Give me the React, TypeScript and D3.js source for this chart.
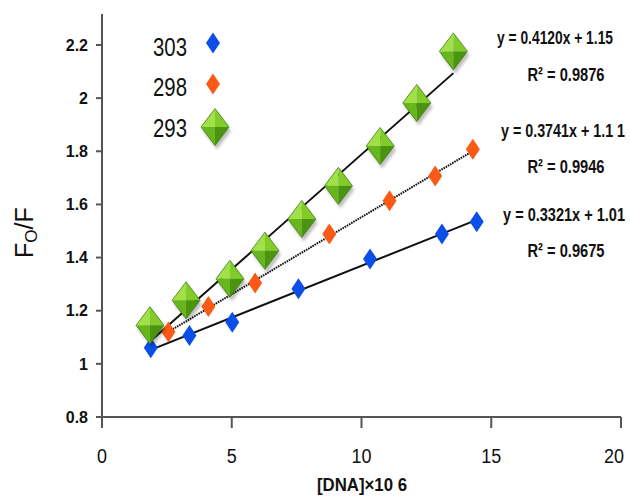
import React from 'react';
import * as d3 from 'd3';

// [DNA]x10^6 values and F0/F ratios
const x303 = [1.88, 3.37, 5.02, 7.57, 10.33, 13.1, 14.44];
const y303 = [1.061, 1.107, 1.157, 1.283, 1.395, 1.489, 1.535];
const x298 = [2.56, 4.1, 5.9, 8.76, 11.08, 12.84, 14.29];
const y298 = [1.12, 1.216, 1.304, 1.489, 1.614, 1.707, 1.808];
const x293 = [1.85, 3.24, 4.93, 6.28, 7.7, 9.11, 10.72, 12.13, 13.54];
const y293 = [1.145, 1.239, 1.32, 1.426, 1.545, 1.67, 1.82, 1.982, 2.176];

const seriesNames = ['303', '298', '293'];
const equations = ['y = 0.4120x + 1.15', 'y = 0.3741x + 1.1 1', 'y = 0.3321x + 1.01'];
const rSquared = ['R² = 0.9876', 'R² = 0.9946', 'R² = 0.9675'];
const xTicks = [0, 5, 10, 15, 20];
const yTicks = [0.8, 1, 1.2, 1.4, 1.6, 1.8, 2, 2.2];

const W = 630;
const H = 503;
const margin = { top: 14, left: 102, right: 9, bottom: 86 };

const x = d3.scaleLinear().domain([0, 20]).range([margin.left, W - margin.right]);
const y = d3.scaleLinear().domain([0.8, 2.2]).range([H - margin.bottom, 45]);

// least squares fit, like excel's linear trendline
function fit(xs: number[], ys: number[]) {
    const mx = d3.mean(xs) as number;
    const my = d3.mean(ys) as number;
    const num = d3.sum(xs, (v, i) => (v - mx) * (ys[i] - my));
    const den = d3.sum(xs, v => (v - mx) * (v - mx));
    const slope = num / den;
    const icpt = my - slope * mx;
    const ext = d3.extent(xs) as [number, number];
    return ext.map(v => ({ x: v, y: icpt + slope * v }));
}

const line = d3.line<{ x: number; y: number }>().x(d => x(d.x)).y(d => y(d.y));

const diamond = (w: number, h: number) =>
    `M0,${-h / 2}L${w / 2},0L0,${h / 2}L${-w / 2},0Z`;

function SmallDiamond({ cx, cy, color }: { cx: number; cy: number; color: string }) {
    return <path transform={`translate(${cx},${cy})`} d={diamond(14, 21)} fill={color} />;
}

function BigDiamond({ cx, cy }: { cx: number; cy: number }) {
    const w = 28, h = 37;
    return (
        <g transform={`translate(${cx},${cy})`}>
            <path d={diamond(w, h)} transform="translate(2,4)" fill="#000" opacity={0.25} filter="url(#blur)" />
            <path d={`M0,0L0,${-h / 2}L${-w / 2},0Z`} fill="#a2e04a" />
            <path d={`M0,0L0,${-h / 2}L${w / 2},0Z`} fill="#82cc2a" />
            <path d={`M0,0L${-w / 2},0L0,${h / 2}Z`} fill="#66b61c" />
            <path d={`M0,0L${w / 2},0L0,${h / 2}Z`} fill="#4a9410" />
            <path d={diamond(w, h)} fill="none" stroke="#3f7d12" strokeWidth={0.8} />
        </g>
    );
}

const sans = '"Liberation Sans", Arial, sans-serif';
const axisColor = '#555';

// narrow text: squeezed horizontally so it looks like a condensed face
function NarrowText(props: { x: number; y: number; w: number; sx: number; size: number; bold?: boolean; children: React.ReactNode }) {
    const { x: tx, y: ty, w, sx, size, bold, children } = props;
    return (
        <text transform={`translate(${tx},${ty}) scale(${sx},1)`} dy="0.36em" textAnchor="middle"
            fontFamily={sans} fontWeight={bold ? 'bold' : 'normal'} fontSize={size} fill="#111"
            textLength={w / sx} lengthAdjust="spacingAndGlyphs">
            {children}
        </text>
    );
}

export default function App() {
    const fits = [fit(x303, y303), fit(x298, y298), fit(x293, y293)];
    const eqPos = [
        { x: 555, y: 37, ry: 74, w: 116 },
        { x: 563, y: 130, ry: 166, w: 124 },
        { x: 564, y: 214, ry: 250, w: 122 },
    ];
    return (
        <div style={{ position: 'absolute', left: 0, top: 0 }}>
            <svg width={W} height={H} style={{ display: 'block', background: '#fff' }}>
                <defs>
                    <filter id="blur" x="-50%" y="-50%" width="200%" height="200%">
                        <feGaussianBlur stdDeviation={1.6} />
                    </filter>
                </defs>

                {/* axes */}
                <line x1={x(0)} x2={x(0)} y1={margin.top} y2={y(0.8)} stroke={axisColor} strokeWidth={2} />
                <line x1={x(0) - 5} x2={x(20)} y1={y(0.8)} y2={y(0.8)} stroke={axisColor} strokeWidth={2} />
                {yTicks.map(t => (
                    <g key={'y' + t}>
                        <line x1={x(0) - 6} x2={x(0)} y1={y(t)} y2={y(t)} stroke={axisColor} strokeWidth={2} />
                        <text x={x(0) - 14} y={y(t)} dy="0.36em" textAnchor="end"
                            fontFamily={sans} fontWeight="bold" fontSize={16} fill="#111">
                            {String(t)}
                        </text>
                    </g>
                ))}
                {xTicks.map(t => (
                    <g key={'x' + t}>
                        <line x1={x(t)} x2={x(t)} y1={y(0.8)} y2={y(0.8) + 11} stroke={axisColor} strokeWidth={2} />
                        <NarrowText x={Math.min(x(t), W - 16)} y={y(0.8) + 38} w={String(t).length * 10} sx={0.85} size={21}>
                            {t}
                        </NarrowText>
                    </g>
                ))}

                {/* axis titles */}
                <NarrowText x={362} y={485} w={90} sx={0.85} size={18} bold>[DNA]×10 6</NarrowText>
                <text transform="translate(33,258) rotate(-90)" fontFamily={sans} fontSize={25} fill="#111">
                    F<tspan fontSize={17} dy={4}>O</tspan><tspan dy={-4}>/F</tspan>
                </text>

                {/* trendlines */}
                <path d={line(fits[0]) as string} fill="none" stroke="#111" strokeWidth={2} />
                <path d={line(fits[1]) as string} fill="none" stroke="#111" strokeWidth={2} strokeDasharray="1.6,0.9" />
                <path d={line(fits[2]) as string} fill="none" stroke="#111" strokeWidth={2} />

                {/* points */}
                {x303.map((v, i) => <SmallDiamond key={'b' + i} cx={x(v)} cy={y(y303[i])} color="#0b4fe8" />)}
                {x298.map((v, i) => <SmallDiamond key={'o' + i} cx={x(v)} cy={y(y298[i])} color="#fb5a16" />)}
                {x293.map((v, i) => <BigDiamond key={'g' + i} cx={x(v)} cy={y(y293[i])} />)}

                {/* legend */}
                {seriesNames.map((s, i) => (
                    <NarrowText key={s} x={170} y={[47, 87, 128][i]} w={34} sx={0.8} size={25}>{s}</NarrowText>
                ))}
                <SmallDiamond cx={213} cy={43} color="#0b4fe8" />
                <SmallDiamond cx={213} cy={84} color="#fb5a16" />
                <BigDiamond cx={215} cy={127} />

                {/* trendline labels */}
                {equations.map((e, i) => (
                    <g key={e}>
                        <NarrowText x={eqPos[i].x} y={eqPos[i].y} w={eqPos[i].w} sx={0.73} size={19} bold>{e}</NarrowText>
                        <NarrowText x={566} y={eqPos[i].ry} w={77} sx={0.73} size={19} bold>{rSquared[i]}</NarrowText>
                    </g>
                ))}
            </svg>
        </div>
    );
}
